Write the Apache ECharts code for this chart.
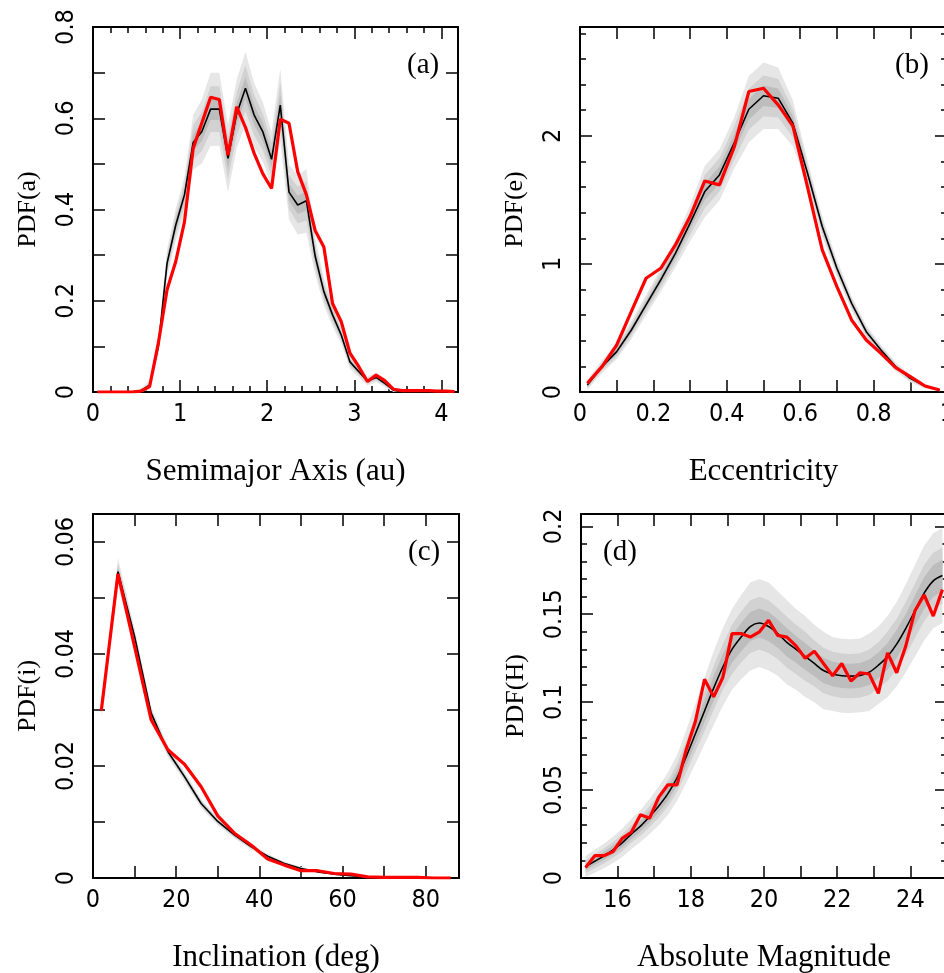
<!DOCTYPE html>
<html>
<head>
<meta charset="utf-8">
<script src="https://cdn.jsdelivr.net/npm/echarts@6/dist/echarts.min.js"></script>
<style>
html,body{margin:0;padding:0;background:#fff;}
#main{width:944px;height:973px;}
</style>
</head>
<body>
<div id="main"></div>
<script>
// ---- panel (a) semimajor axis ----
var aX = [0.05,0.15,0.25,0.35,0.45,0.55,0.65,0.75,0.85,0.95,1.05,1.15,1.25,1.35,1.45,1.55,1.65,1.75,1.85,1.95,2.05,
          2.15,2.25,2.35,2.45,2.55,2.65,2.75,2.85,2.95,3.05,3.15,3.25,3.35,3.45,3.55,3.65,3.75,3.85,3.95,4.05,4.15];
var aRed = [0,0,0,0,0,0.002,0.012,0.107,0.224,0.286,0.373,0.534,0.59,0.646,0.641,0.519,0.625,0.58,0.523,0.478,0.446,
            0.598,0.589,0.483,0.432,0.354,0.318,0.194,0.154,0.085,0.056,0.023,0.037,0.025,0.006,0.003,0.003,0.003,0.003,0.002,0.002,0.001];
var aBlack = [0,0,0,0,0,0.003,0.015,0.1,0.282,0.366,0.432,0.547,0.571,0.62,0.62,0.512,0.61,0.666,0.607,0.57,0.51,
              0.629,0.438,0.41,0.419,0.298,0.22,0.169,0.125,0.066,0.045,0.024,0.032,0.019,0.004,0,0,0,0,0,0,0];
// half widths of the grey bands (outer, middle, inner)
var aL = [0.002,0.002,0.002,0.002,0.002,0.004,0.01,0.02,0.03,0.035,0.04,0.06,0.07,0.08,0.08,0.075,0.075,0.08,0.07,0.065,0.06,
          0.08,0.06,0.065,0.07,0.04,0.03,0.025,0.02,0.015,0.012,0.01,0.01,0.008,0.005,0.003,0.002,0.002,0.001,0.001,0.001,0.001];
var aM = [0.001,0.001,0.001,0.001,0.001,0.0025,0.006,0.012,0.019,0.022,0.025,0.037,0.043,0.05,0.05,0.047,0.047,0.05,0.044,0.04,0.037,
          0.05,0.037,0.04,0.043,0.025,0.019,0.016,0.012,0.009,0.007,0.006,0.006,0.005,0.003,0.002,0.001,0.001,0.001,0.001,0.001,0.001];
var aD = [0.0005,0.0005,0.0005,0.0005,0.0005,0.001,0.003,0.006,0.009,0.011,0.012,0.018,0.021,0.024,0.024,0.023,0.023,0.024,0.021,0.02,0.018,
          0.024,0.018,0.02,0.021,0.012,0.009,0.008,0.006,0.0045,0.0035,0.003,0.003,0.0025,0.0015,0.001,0.0005,0.0005,0.0005,0.0005,0.0005,0.0005];
var aXTicks = [0,1,2,3,4];
var aYTicks = [0,0.2,0.4,0.6,0.8];

// ---- panel (b) eccentricity ----
var bX = [0.02,0.06,0.10,0.14,0.18,0.22,0.26,0.30,0.34,0.38,0.42,0.46,0.50,0.54,0.58,0.62,0.66,0.70,0.74,0.78,0.82,0.86,0.90,0.94,0.98];
var bRed = [0.068,0.198,0.367,0.63,0.888,0.966,1.148,1.37,1.648,1.617,1.911,2.346,2.372,2.242,2.078,1.60,1.109,0.823,0.5625,0.406,0.302,0.19,0.12,0.047,0.016];
var bBlack = [0.055,0.198,0.315,0.484,0.68,0.875,1.083,1.318,1.565,1.695,1.943,2.208,2.313,2.294,2.099,1.708,1.292,0.966,0.693,0.471,0.328,0.198,0.107,0.047,0.016];
var bL = [0.04,0.05,0.06,0.07,0.08,0.09,0.11,0.14,0.2,0.2,0.2,0.26,0.26,0.24,0.18,0.1,0.08,0.065,0.055,0.05,0.04,0.035,0.03,0.02,0.01];
var bM = [0.025,0.03,0.04,0.045,0.05,0.06,0.07,0.09,0.13,0.13,0.13,0.16,0.16,0.15,0.11,0.065,0.05,0.04,0.035,0.03,0.025,0.02,0.018,0.012,0.006];
var bD = [0.012,0.015,0.02,0.022,0.025,0.03,0.035,0.045,0.065,0.065,0.065,0.08,0.08,0.075,0.055,0.03,0.025,0.02,0.018,0.015,0.012,0.01,0.009,0.006,0.003];
var bXTicks = [0,0.2,0.4,0.6,0.8,1];
var bYTicks = [0,1,2];

// ---- panel (c) inclination ----
var cX = [2,6,10,14,18,22,26,30,34,38,42,46,50,54,58,62,66,70,74,78,82,86];
var cRed = [0.0299,0.0543,0.0413,0.0282,0.0229,0.0203,0.0163,0.0111,0.008,0.0059,0.0034,0.0023,0.0013,0.0013,0.0008,0.0007,0.0002,0.0001,0.0001,0.0001,0,0];
var cBlack = [0.0299,0.0547,0.0431,0.0294,0.0226,0.0181,0.0133,0.0101,0.0077,0.0056,0.0039,0.0026,0.0017,0.0011,0.0007,0.0004,0.0002,0.0001,0.0001,0,0,0];
var cL = [0.001,0.0025,0.0015,0.0012,0.001,0.0009,0.0008,0.0007,0.0006,0.0005,0.0004,0.0003,0.0003,0.0002,0.0002,0.0001,0.0001,0.0001,0.0001,0.0001,0.0001,0.0001];
var cM = [0.0006,0.0015,0.0009,0.0007,0.0006,0.0005,0.0005,0.0004,0.0004,0.0003,0.0002,0.0002,0.0002,0.0001,0.0001,0.0001,0.0001,0.0001,0.0001,0.0001,0.0001,0.0001];
var cD = [0.0003,0.0008,0.0005,0.0004,0.0003,0.0003,0.0002,0.0002,0.0002,0.0002,0.0001,0.0001,0.0001,0.0001,0.0001,0,0,0,0,0,0,0];
var cXTicks = [0,20,40,60,80];
var cYTicks = [0,0.02,0.04,0.06];

// ---- panel (d) absolute magnitude ----
var dX = [15.125,15.375,15.625,15.875,16.125,16.375,16.625,16.875,17.125,17.375,17.625,17.875,18.125,18.375,18.625,18.875,
          19.125,19.375,19.625,19.875,20.125,20.375,20.625,20.875,21.125,21.375,21.625,21.875,22.125,22.375,22.625,22.875,
          23.125,23.375,23.625,23.875,24.125,24.375,24.625,24.875];
var dRed = [0.0059,0.0127,0.0127,0.015,0.0225,0.026,0.036,0.034,0.046,0.053,0.053,0.073,0.089,0.113,0.103,0.114,
            0.139,0.139,0.137,0.14,0.1466,0.138,0.137,0.132,0.125,0.129,0.122,0.115,0.122,0.112,0.1167,0.116,
            0.105,0.128,0.1167,0.132,0.152,0.161,0.149,0.164];
var dBlack = [0.0065,0.0095,0.0125,0.016,0.02,0.025,0.0295,0.035,0.041,0.048,0.057,0.069,0.082,0.095,0.108,0.12,
              0.13,0.137,0.143,0.145,0.143,0.139,0.134,0.13,0.126,0.122,0.118,0.116,0.115,0.1148,0.1152,0.117,
              0.121,0.126,0.133,0.142,0.152,0.162,0.169,0.172];
var dL = [0.006,0.0065,0.007,0.0075,0.008,0.0085,0.009,0.01,0.011,0.012,0.013,0.015,0.017,0.019,0.021,0.022,
          0.023,0.024,0.025,0.025,0.025,0.024,0.024,0.023,0.023,0.022,0.022,0.021,0.021,0.021,0.021,0.022,
          0.022,0.023,0.024,0.025,0.026,0.027,0.027,0.027];
var dM = [0.0036,0.004,0.0042,0.0045,0.0048,0.005,0.0055,0.006,0.0066,0.0072,0.008,0.009,0.010,0.0115,0.0125,0.013,
          0.014,0.0145,0.015,0.015,0.015,0.0145,0.0145,0.014,0.014,0.013,0.013,0.0126,0.0126,0.0126,0.0126,0.013,
          0.013,0.014,0.0145,0.015,0.0155,0.016,0.016,0.016];
var dD = [0.002,0.002,0.0023,0.0025,0.0026,0.0028,0.003,0.0033,0.0036,0.004,0.0043,0.005,0.0056,0.0063,0.007,0.0073,
          0.0076,0.008,0.0082,0.0082,0.0082,0.008,0.008,0.0076,0.0076,0.0073,0.0073,0.007,0.007,0.007,0.007,0.0073,
          0.0073,0.0076,0.008,0.0082,0.0086,0.009,0.009,0.009];
var dXTicks = [16,18,20,22,24];
var dYTicks = [0,0.05,0.1,0.15,0.2];

var bandColors = ['#e6e6e6','#d2d2d2','#bdbdbd'];
var tickFont = '"DejaVu Sans Condensed","Liberation Sans Narrow","DejaVu Sans",sans-serif';
var nameFont = '"Liberation Serif","DejaVu Serif",serif';

var panels = [
    {grid:{left:93,top:27,width:365,height:365}, x:aX, red:aRed, black:aBlack, bands:[aL,aM,aD],
     xr:[0,4.19,1,0.2], yr:[0,0.8,0.1,null], xt:aXTicks, yt:aYTicks,
     xName:'Semimajor Axis (au)', yName:'PDF(a)', tag:'(a)', tagPos:[402,46], smooth:false},
    {grid:{left:580,top:27,width:367,height:365}, x:bX, red:bRed, black:bBlack, bands:[bL,bM,bD],
     xr:[0,1,0.1,null], yr:[0,2.85,1,0.2], xt:bXTicks, yt:bYTicks,
     xName:'Eccentricity', yName:'PDF(e)', tag:'(b)', tagPos:[890,46], smooth:false},
    {grid:{left:93,top:514,width:366,height:364}, x:cX, red:cRed, black:cBlack, bands:[cL,cM,cD],
     xr:[0,88,10,null], yr:[0,0.065,0.01,null], xt:cXTicks, yt:cYTicks,
     xName:'Inclination (deg)', yName:'PDF(i)', tag:'(c)', tagPos:[403,533], smooth:false},
    {grid:{left:581,top:514,width:366,height:364}, x:dX, red:dRed, black:dBlack, bands:[dL,dM,dD],
     xr:[15,25,1,null], yr:[0,0.207,0.05,0.01], xt:dXTicks, yt:dYTicks,
     xName:'Absolute Magnitude', yName:'PDF(H)', tag:'(d)', tagPos:[598,533], smooth:true}
];

function labelFormatter(list){
    return function(v){
        for (var i = 0; i < list.length; i++) {
            if (Math.abs(v - list[i]) < 1e-9) return String(list[i]);
        }
        return '';
    };
}

// main axis (labels, long ticks) + minor axis (short ticks), on both sides
function makeAxes(dim, gi, r, ticks, name){
    var sides = dim === 'x' ? ['bottom','top'] : ['left','right'];
    var out = [];
    sides.forEach(function(side, k){
        var ax = {
            type:'value', gridIndex:gi, position:side, min:r[0], max:r[1], interval:r[2],
            axisLine:{show:true, onZero:false, lineStyle:{color:'#000', width:2}},
            axisTick:{show:true, inside:true, length:12, lineStyle:{color:'#000', width:1.5}},
            axisLabel:{show:k === 0, formatter:labelFormatter(ticks), color:'#000',
                       fontFamily:tickFont, fontSize:25, margin:dim === 'x' ? 10 : 14,
                       rotate:dim === 'x' ? 0 : 90},
            splitLine:{show:false}
        };
        if (k === 0) {
            ax.name = name;
            ax.nameLocation = 'middle';
            if (dim === 'x') {
                ax.nameGap = 64;
                ax.nameTextStyle = {fontFamily:nameFont, fontSize:31, color:'#000'};
            } else {
                ax.nameGap = 52;
                ax.nameRotate = 90;
                ax.nameTextStyle = {fontFamily:nameFont, fontSize:26, color:'#000'};
            }
        }
        out.push(ax);
        out.push({
            type:'value', gridIndex:gi, position:side, min:r[0], max:r[1], interval:r[3] || r[2],
            axisLine:{show:false, onZero:false},
            axisTick:{show:!!r[3], inside:true, length:6, lineStyle:{color:'#000', width:1.5}},
            axisLabel:{show:false}, splitLine:{show:false}
        });
    });
    return out;
}

function bandSeries(gi, xs, mid, half, color, z){
    return {
        type:'custom', xAxisIndex:gi * 4, yAxisIndex:gi * 4, z:z, silent:true, clip:true,
        data:[[xs[0], mid[0]]],
        renderItem:function(params, api){
            var pts = [], i;
            for (i = 0; i < xs.length; i++) pts.push(api.coord([xs[i], mid[i] + half[i]]));
            for (i = xs.length - 1; i >= 0; i--) pts.push(api.coord([xs[i], Math.max(0, mid[i] - half[i])]));
            return {type:'polygon', shape:{points:pts}, style:{fill:color}};
        }
    };
}

function zip(xs, ys){
    return xs.map(function(x, i){ return [x, ys[i]]; });
}

var grids = [], xAxes = [], yAxes = [], series = [], titles = [];
panels.forEach(function(p, gi){
    var g = p.grid;
    g.outerBoundsMode = 'none';
    g.containLabel = false;
    grids.push(g);
    xAxes = xAxes.concat(makeAxes('x', gi, p.xr, p.xt, p.xName));
    yAxes = yAxes.concat(makeAxes('y', gi, p.yr, p.yt, p.yName));
    p.bands.forEach(function(h, k){
        series.push(bandSeries(gi, p.x, p.black, h, bandColors[k], 1 + k));
    });
    series.push({type:'line', xAxisIndex:gi * 4, yAxisIndex:gi * 4, data:zip(p.x, p.black),
                 showSymbol:false, smooth:p.smooth ? 0.3 : false, z:5,
                 lineStyle:{color:'#000', width:1.6}});
    series.push({type:'line', xAxisIndex:gi * 4, yAxisIndex:gi * 4, data:zip(p.x, p.red),
                 showSymbol:false, z:6, lineStyle:{color:'#ff0000', width:3.2}});
    titles.push({text:p.tag, left:p.tagPos[0], top:p.tagPos[1],
                 textStyle:{fontFamily:nameFont, fontSize:29, fontWeight:'normal', color:'#000'}});
});

var chart = echarts.init(document.getElementById('main'));
chart.setOption({
    animation:false,
    backgroundColor:'#fff',
    title:titles,
    grid:grids,
    xAxis:xAxes,
    yAxis:yAxes,
    series:series
});
</script>
</body>
</html>
